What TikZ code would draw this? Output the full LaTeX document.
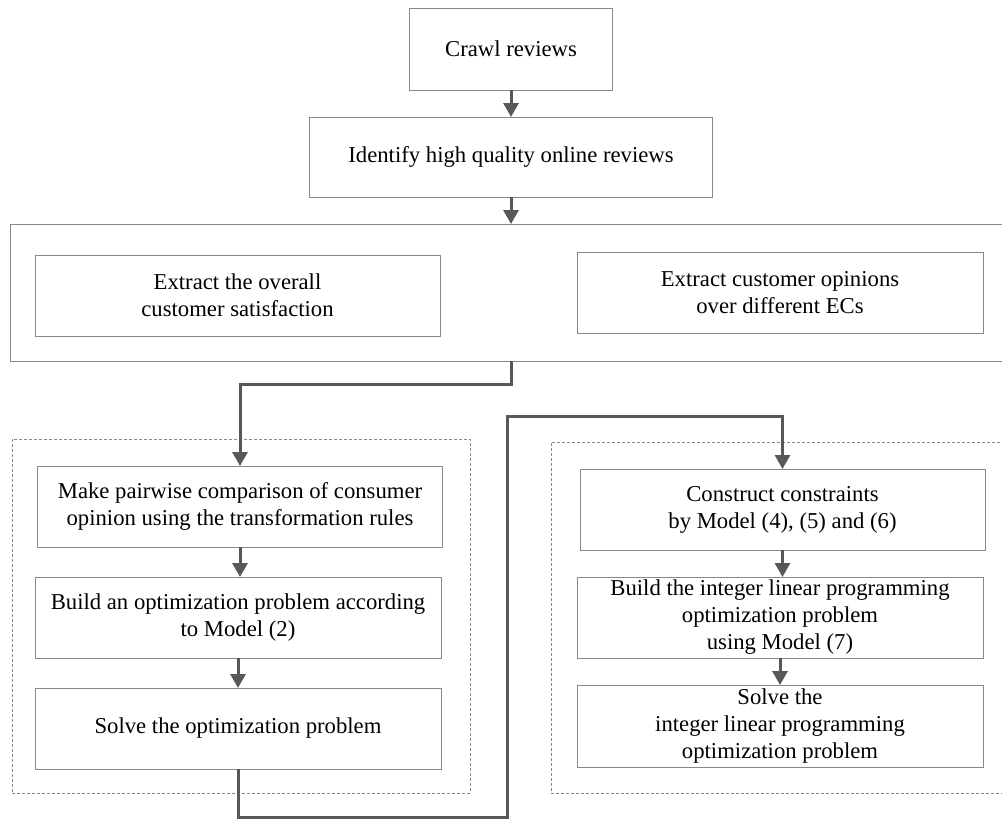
\documentclass[tikz,border=0pt]{standalone}
\usepackage{fontspec}
\setmainfont{Liberation Serif}
\usetikzlibrary{arrows.meta}
\definecolor{boxgray}{HTML}{888888}
\definecolor{linegray}{HTML}{585858}
\tikzset{
  box/.style={draw=boxgray, line width=0.9pt, rectangle, inner sep=0pt, outer sep=0pt,
    align=center, font=\fontsize{22.7}{27}\selectfont, text=black},
  container/.style={draw=boxgray, line width=0.9pt, rectangle, inner sep=0pt, outer sep=0pt},
  dashbox/.style={draw=boxgray, line width=0.8pt, dash pattern=on 3pt off 2pt, rectangle, inner sep=0pt, outer sep=0pt},
  flow/.style={draw=linegray, line width=3pt, -{Triangle[length=14pt,width=15pt]}},
}
\begin{document}
\begin{tikzpicture}[x=1pt,y=-1pt]
\useasboundingbox[fill=white] (0,0) rectangle (1002,822);

% containers
\node[container, minimum width=1002pt, minimum height=137pt] (big) at (511,292.5) {};
\node[dashbox, minimum width=458pt, minimum height=354pt] (leftc) at (241,616) {};
\node[dashbox, minimum width=459pt, minimum height=351pt] (rightc) at (780.5,617.5) {};

% boxes
\node[box, minimum width=203pt, minimum height=82pt] (crawl) at (511,49) {Crawl reviews};
\node[box, minimum width=403pt, minimum height=80pt] (ident) at (511,157) {Identify high quality online reviews};
\node[box, minimum width=405pt, minimum height=81pt] (ex1) at (237.5,295.5) {Extract the overall\\customer satisfaction};
\node[box, minimum width=406pt, minimum height=81pt] (ex2) at (780,292.5) {Extract customer opinions\\over different ECs};

\node[box, minimum width=405pt, minimum height=81pt] (mp) at (240,506.5) {Make pairwise comparison of consumer\\opinion using the transformation rules};
\node[box, minimum width=406pt, minimum height=81pt] (bo) at (238,617.5) {Build an optimization problem according\\to Model (2)};
\node[box, minimum width=406pt, minimum height=81pt] (so) at (238,728.5) {Solve the optimization problem};

\node[box, minimum width=405pt, minimum height=81pt] (cc) at (782.5,509.5) {Construct constraints\\by Model (4), (5) and (6)};
\node[box, minimum width=406pt, minimum height=81pt] (bi) at (780,617.5) {Build the integer linear programming\\optimization problem\\using Model (7)};
\node[box, minimum width=406pt, minimum height=82pt] (si) at (780,726) {Solve the\\integer linear programming\\optimization problem};

% helper coordinates
\coordinate (j1) at (511,384);
\coordinate (j2) at (507,817);
\coordinate (j3) at (507,416);

% connectors
\draw[flow] (crawl.south) -- (ident.north);
\draw[flow] (ident.south) -- (big.north);
\draw[flow] (big.south) -- (j1) -| (mp.north);
\draw[flow] (mp.south) -- (mp.south |- bo.north);
\draw[flow] (bo.south) -- (so.north);
\draw[flow] (so.south) |- (j2) -- (j3) -| (cc.north);
\draw[flow] (cc.south) -- (cc.south |- bi.north);
\draw[flow] (bi.south) -- (si.north);
\end{tikzpicture}
\end{document}
